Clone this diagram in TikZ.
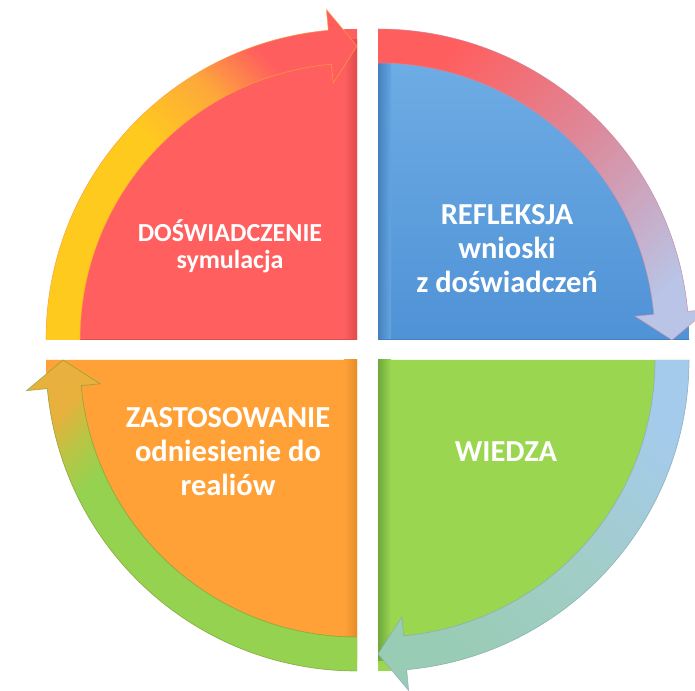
\documentclass[tikz,border=0pt]{standalone}
\usepackage{fontspec}
\setmainfont{Carlito}
\usetikzlibrary{calc}
\definecolor{CycleRed}{HTML}{FF5F5F}
\definecolor{CycleRedEdge}{HTML}{E04C4C}
\definecolor{CycleBlue}{HTML}{62A6E3}
\definecolor{CycleBlueDeep}{HTML}{4F92D6}
\definecolor{CycleBlueEdge}{HTML}{4680BC}
\definecolor{CycleGreen}{HTML}{9BD650}
\definecolor{CycleGreenEdge}{HTML}{6EA83C}
\definecolor{CycleOrange}{HTML}{FFA137}
\definecolor{CycleOrangeEdge}{HTML}{E58C2A}
\definecolor{BandYellow}{HTML}{FFCA1E}
\definecolor{BandAmber}{HTML}{FDA93A}
\definecolor{BandRed}{HTML}{FF5E5E}
\definecolor{BandMauve}{HTML}{DC8A9C}
\definecolor{BandLilac}{HTML}{B9C4E6}
\definecolor{BandSky}{HTML}{A5CBEC}
\definecolor{BandSea}{HTML}{A1CDC6}
\definecolor{BandTeal}{HTML}{98CCB4}
\definecolor{BandGreen}{HTML}{95D24F}
\definecolor{BandOlive}{HTML}{BCC444}
\definecolor{BandGold}{HTML}{E8B03C}
\pgfdeclareverticalshading{yellow to red}{100bp}{color(0bp)=(BandYellow);
  color(48bp)=(BandYellow); color(60bp)=(BandAmber); color(70bp)=(BandRed);
  color(100bp)=(BandRed)}
\pgfdeclareverticalshading{green to gold}{100bp}{color(0bp)=(BandGreen);
  color(65bp)=(BandGreen); color(71bp)=(BandOlive); color(76bp)=(BandGold);
  color(100bp)=(BandGold)}
\tikzset{
  quarter label/.style={text=white,align=center,inner sep=0pt,
    font=\bfseries\fontsize{30.5}{34}\selectfont},
  band edge/.style={draw=#1,draw opacity=0.6,line width=0.7pt}
}

\begin{document}
\begin{tikzpicture}[x=1pt,y=1pt]

        \useasboundingbox (0,0) rectangle (695,690);
        \clip (0,0) rectangle (695,690);

        % quarters
        \begin{scope}[shift={(357,350)}]
          \fill[CycleRed]
            (0,0) -- (180:311) arc[start angle=180,end angle=90,radius=311] -- cycle;
          \shade[left color=CycleRed,middle color=red!20!white,right color=CycleRedEdge]
            (-13,0) rectangle (0,300);
          \draw[CycleRedEdge,line width=1pt] (-311,0.5) -- (0,0.5);
        \end{scope}

        \begin{scope}[shift={(378,350)}]
          \shade[top color=CycleBlue!90!white,bottom color=CycleBlueDeep]
            (0,0) -- (0:311) arc[start angle=0,end angle=90,radius=311] -- cycle;
          \shade[left color=CycleBlueEdge,middle color=cyan!20!white,right color=CycleBlue]
            (0,0) rectangle (13,300);
          \draw[CycleBlueEdge,line width=1pt] (0,0.5) -- (311,0.5);
        \end{scope}

        \begin{scope}[shift={(378,330)}]
          \fill[CycleGreen]
            (0,0) -- (0:311) arc[start angle=0,end angle=-90,radius=311] -- cycle;
          \shade[left color=CycleGreenEdge,middle color=yellow!30!white,right color=CycleGreen]
            (0,0) rectangle (13,-300);
        \end{scope}

        \begin{scope}[shift={(357,330)}]
          \fill[CycleOrange]
            (0,0) -- (180:311) arc[start angle=180,end angle=270,radius=311] -- cycle;
          \shade[left color=CycleOrange,middle color=yellow!45!white,right color=CycleOrangeEdge]
            (-13,0) rectangle (0,-300);
        \end{scope}

        % circular arrows
        \begin{scope}[shift={(357,350)}]
          \shade[shading=yellow to red,shading angle=-45]
            (180:311) arc[start angle=180,end angle=95.3,radius=311]
            -- (95.3:332) -- (90:294) -- (95.3:258) -- (95.3:277)
            arc[start angle=95.3,end angle=180,radius=277] -- cycle;
          \draw[band edge=BandAmber]
            (180:311) arc[start angle=180,end angle=95.3,radius=311]
            -- (95.3:332) -- (90:294) -- (95.3:258) -- (95.3:277)
            arc[start angle=95.3,end angle=180,radius=277];
        \end{scope}

        \begin{scope}[shift={(378,350)}]
          \shade[top color=BandRed,bottom color=BandLilac,middle color=BandMauve,
            shading angle=45]
            (90:311) arc[start angle=90,end angle=5.3,radius=311]
            -- (5.3:332) -- (0:294) -- (5.3:258) -- (5.3:277)
            arc[start angle=5.3,end angle=90,radius=277] -- cycle;
          \draw[band edge=BandMauve]
            (90:311) arc[start angle=90,end angle=5.3,radius=311]
            -- (5.3:332) -- (0:294) -- (5.3:258) -- (5.3:277)
            arc[start angle=5.3,end angle=90,radius=277];
        \end{scope}

        \begin{scope}[shift={(378,330)}]
          \shade[top color=BandSky,bottom color=BandTeal,middle color=BandSea,
            shading angle=-45]
            (0:311) arc[start angle=0,end angle=-84.7,radius=311]
            -- (-84.7:332) -- (-90:294) -- (-84.7:258) -- (-84.7:277)
            arc[start angle=-84.7,end angle=0,radius=277] -- cycle;
          \draw[band edge=BandSky!80!black]
            (0:311) arc[start angle=0,end angle=-84.7,radius=311]
            -- (-84.7:332) -- (-90:294) -- (-84.7:258) -- (-84.7:277)
            arc[start angle=-84.7,end angle=0,radius=277];
        \end{scope}

        \begin{scope}[shift={(357,330)}]
          \shade[shading=green to gold,shading angle=45]
            (-90:311) arc[start angle=-90,end angle=-174.7,radius=311]
            -- (-174.7:332) -- (-180:294) -- (-174.7:258) -- (-174.7:277)
            arc[start angle=-174.7,end angle=-90,radius=277] -- cycle;
          \draw[band edge=BandGreen!75!black]
            (-90:311) arc[start angle=-90,end angle=-174.7,radius=311]
            -- (-174.7:332) -- (-180:294) -- (-174.7:258) -- (-174.7:277)
            arc[start angle=-174.7,end angle=-90,radius=277];
        \end{scope}

        % labels
        \node[quarter label,font=\bfseries\fontsize{26}{27}\selectfont]
          (doswiadczenie) at (230,444) {DOŚWIADCZENIE\\symulacja};

        \node[quarter label] (refleksja) at (507,441)
          {REFLEKSJA\\wnioski\\z doświadczeń};

        \node[quarter label] (wiedza) at (506,238) {WIEDZA};

        \node[quarter label] (zastosowanie) at (228,238)
          {ZASTOSOWANIE\\odniesienie do\\realiów};

      \end{tikzpicture}
\end{document}
